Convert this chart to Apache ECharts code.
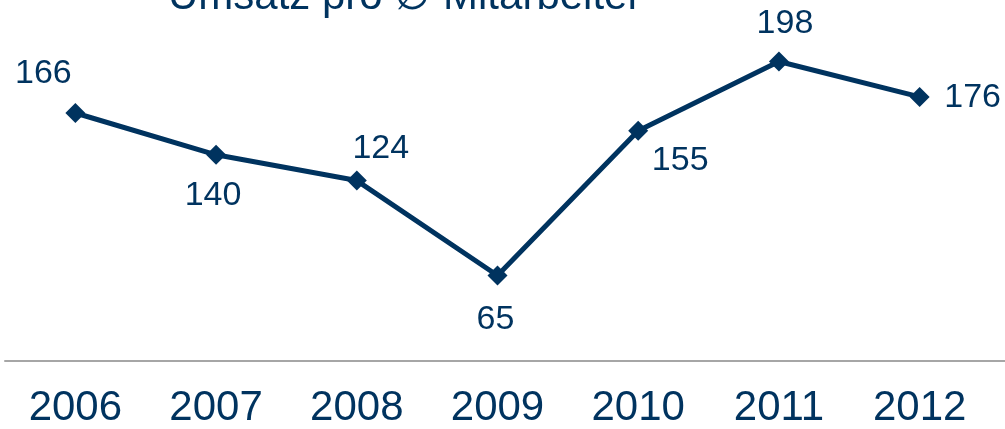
<!DOCTYPE html>
<html>
<head>
<meta charset="utf-8">
<script src="https://cdn.jsdelivr.net/npm/echarts@6/dist/echarts.min.js"></script>
<style>
  html, body { margin: 0; padding: 0; background: #fff; }
  #chart { width: 1005px; height: 429px; }
</style>
</head>
<body>
<div id="chart"></div>
<script>
// Daten
const years = ["2006", "2007", "2008", "2009", "2010", "2011", "2012"];
const umsatz = [166, 140, 124, 65, 155, 198, 176];

// Lage der Wertebeschriftungen (dx, dy relativ zum Punkt)
const labelOffsets = [[-32, -39], [-3, 41], [24, -32], [-2, 44], [42, 30], [6, -38], [53, 1]];

const NAVY = "#00335f";
const FONT = "'Liberation Sans', Arial, sans-serif";

const chart = echarts.init(document.getElementById("chart"));
chart.setOption({
  animation: false,
  title: {
    text: "Umsatz pro \u2205 Mitarbeiter",
    left: 163,
    top: -29,
    textStyle: { color: NAVY, fontSize: 42, fontWeight: "normal", fontFamily: FONT },
  },
  grid: [
    { left: 5, right: 15, top: 10, bottom: 68 },
    { left: 5, right: 0, top: 10, bottom: 68 },
  ],
  xAxis: [
    {
      type: "category",
      data: years,
      gridIndex: 0,
      boundaryGap: true,
      axisLine: { show: false },
      axisTick: { show: false },
      axisLabel: { color: NAVY, fontSize: 42, fontFamily: FONT, margin: 27 },
    },
    {
      type: "value",
      gridIndex: 1,
      min: 0,
      max: 1,
      axisLine: { show: true, lineStyle: { color: "#a6a6a6", width: 2 } },
      axisTick: { show: false },
      axisLabel: { show: false },
      splitLine: { show: false },
    },
  ],
  yAxis: [
    { type: "value", gridIndex: 0, min: 12.5, max: 230, show: false },
    { type: "value", gridIndex: 1, min: 0, max: 1, show: false },
  ],
  series: [
    {
      type: "line",
      xAxisIndex: 0,
      yAxisIndex: 0,
      symbol: "diamond",
      symbolSize: 20,
      lineStyle: { color: NAVY, width: 5 },
      itemStyle: { color: NAVY },
      data: umsatz.map((v, i) => ({
        value: v,
        label: { offset: labelOffsets[i] },
      })),
      label: {
        show: true,
        position: "inside",
        color: NAVY,
        fontSize: 34,
        fontFamily: FONT,
      },
    },
  ],
});
</script>
</body>
</html>
